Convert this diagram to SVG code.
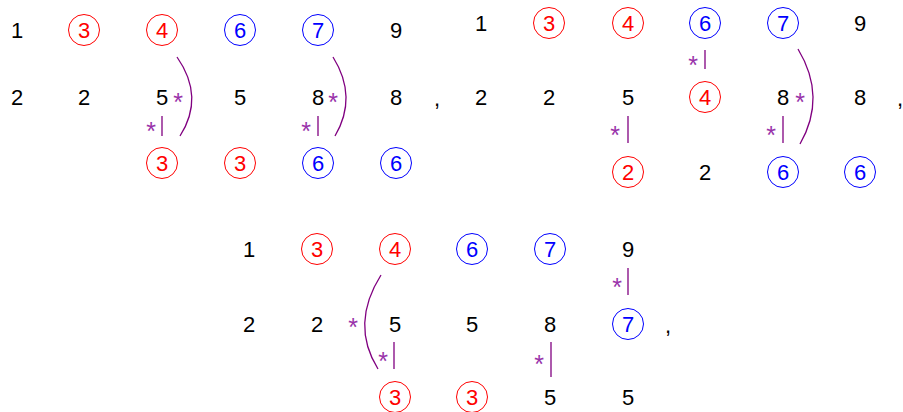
<svg xmlns="http://www.w3.org/2000/svg" width="903" height="412" viewBox="0 0 903 412">
<style>
text{font-family:"Liberation Sans",Arial,sans-serif;font-size:22px;text-anchor:middle}
.k{fill:#000}
.r text{fill:#ff0000}
.r circle{fill:none;stroke:#ff0000;stroke-width:1}
.b text{fill:#0000ff}
.b circle{fill:none;stroke:#0000ff;stroke-width:1}
.e path{fill:none;stroke:#800080;stroke-width:1.3}
.e text{fill:#9933aa;font-size:25px}
</style>
<rect width="903" height="412" fill="#fff"/>
<!-- Panel 1 -->
<g id="p1">
<g id="p1a1"><text class="k" x="17" y="38">1</text></g>
<g id="p1a2" class="r"><circle cx="84" cy="30" r="15.5"/><text x="84" y="38">3</text></g>
<g id="p1a3" class="r"><circle cx="162" cy="30" r="15.5"/><text x="162" y="38">4</text></g>
<g id="p1a4" class="b"><circle cx="240" cy="30" r="15.5"/><text x="240" y="38">6</text></g>
<g id="p1a5" class="b"><circle cx="318" cy="30" r="15.5"/><text x="318" y="38">7</text></g>
<g id="p1a6"><text class="k" x="396" y="38">9</text></g>
<g id="p1b1"><text class="k" x="17" y="105">2</text></g>
<g id="p1b2"><text class="k" x="84" y="105">2</text></g>
<g id="p1b3"><text class="k" x="162" y="105">5</text></g>
<g id="p1b4"><text class="k" x="240" y="105">5</text></g>
<g id="p1b5"><text class="k" x="318" y="105">8</text></g>
<g id="p1b6"><text class="k" x="396" y="105">8</text></g>
<g id="p1c3" class="r"><circle cx="162" cy="163" r="15.5"/><text x="162" y="171">3</text></g>
<g id="p1c4" class="r"><circle cx="240" cy="163" r="15.5"/><text x="240" y="171">3</text></g>
<g id="p1c5" class="b"><circle cx="318" cy="163" r="15.5"/><text x="318" y="171">6</text></g>
<g id="p1c6" class="b"><circle cx="396" cy="163" r="15.5"/><text x="396" y="171">6</text></g>
<text class="k" x="437" y="106">,</text>
</g>
<!-- Panel 2 -->
<g id="p2">
<g id="p2a1"><text class="k" x="481" y="31">1</text></g>
<g id="p2a2" class="r"><circle cx="549" cy="23" r="15.5"/><text x="549" y="31">3</text></g>
<g id="p2a3" class="r"><circle cx="628" cy="23" r="15.5"/><text x="628" y="31">4</text></g>
<g id="p2a4" class="b"><circle cx="705" cy="23" r="15.5"/><text x="705" y="31">6</text></g>
<g id="p2a5" class="b"><circle cx="783" cy="23" r="15.5"/><text x="783" y="31">7</text></g>
<g id="p2a6"><text class="k" x="860" y="31">9</text></g>
<g id="p2b1"><text class="k" x="481" y="105">2</text></g>
<g id="p2b2"><text class="k" x="549" y="105">2</text></g>
<g id="p2b3"><text class="k" x="628" y="105">5</text></g>
<g id="p2b4" class="r"><circle cx="705" cy="97" r="15.5"/><text x="705" y="105">4</text></g>
<g id="p2b5"><text class="k" x="783" y="105">8</text></g>
<g id="p2b6"><text class="k" x="860" y="105">8</text></g>
<g id="p2c3" class="r"><circle cx="628" cy="172" r="15.5"/><text x="628" y="180">2</text></g>
<g id="p2c4"><text class="k" x="705" y="180">2</text></g>
<g id="p2c5" class="b"><circle cx="783" cy="172" r="15.5"/><text x="783" y="180">6</text></g>
<g id="p2c6" class="b"><circle cx="860" cy="172" r="15.5"/><text x="860" y="180">6</text></g>
<text class="k" x="900" y="106">,</text>
</g>
<!-- Panel 3 -->
<g id="p3">
<g id="p3a1"><text class="k" x="249" y="257">1</text></g>
<g id="p3a2" class="r"><circle cx="317" cy="249" r="15.5"/><text x="317" y="257">3</text></g>
<g id="p3a3" class="r"><circle cx="395" cy="249" r="15.5"/><text x="395" y="257">4</text></g>
<g id="p3a4" class="b"><circle cx="472" cy="249" r="15.5"/><text x="472" y="257">6</text></g>
<g id="p3a5" class="b"><circle cx="550" cy="249" r="15.5"/><text x="550" y="257">7</text></g>
<g id="p3a6"><text class="k" x="628" y="257">9</text></g>
<g id="p3b1"><text class="k" x="249" y="332">2</text></g>
<g id="p3b2"><text class="k" x="317" y="332">2</text></g>
<g id="p3b3"><text class="k" x="395" y="332">5</text></g>
<g id="p3b4"><text class="k" x="472" y="332">5</text></g>
<g id="p3b5"><text class="k" x="550" y="332">8</text></g>
<g id="p3b6" class="b"><circle cx="628" cy="324" r="15.5"/><text x="628" y="332">7</text></g>
<g id="p3c3" class="r"><circle cx="395" cy="397" r="15.5"/><text x="395" y="405">3</text></g>
<g id="p3c4" class="r"><circle cx="472" cy="397" r="15.5"/><text x="472" y="405">3</text></g>
<g id="p3c5"><text class="k" x="550" y="405">5</text></g>
<g id="p3c6"><text class="k" x="628" y="405">5</text></g>
<text class="k" x="668" y="333">,</text>
</g>
<!-- Connectors -->
<g id="connectors" class="e">
<path d="M177,57 Q205,97 180,136"/><text x="178" y="111">*</text>
<path d="M162,116 V136"/><text x="151" y="140">*</text>
<path d="M333,57 Q358,97 335,136"/><text x="333" y="111">*</text>
<path d="M318,116 V136"/><text x="306" y="140">*</text>
<path d="M705,50 V69"/><text x="693" y="74">*</text>
<path d="M628,116 V143"/><text x="615" y="144">*</text>
<path d="M783,116 V143"/><text x="771" y="144">*</text>
<path d="M798,49 Q827,97 800,144"/><text x="800" y="111">*</text>
<path d="M628,268 V295"/><text x="617" y="296">*</text>
<path d="M394,342 V369"/><text x="383" y="370">*</text>
<path d="M551,342 V377"/><text x="539" y="373">*</text>
<path d="M381,275 Q350,324 378,369"/><text x="353" y="336">*</text>
</g>
</svg>
